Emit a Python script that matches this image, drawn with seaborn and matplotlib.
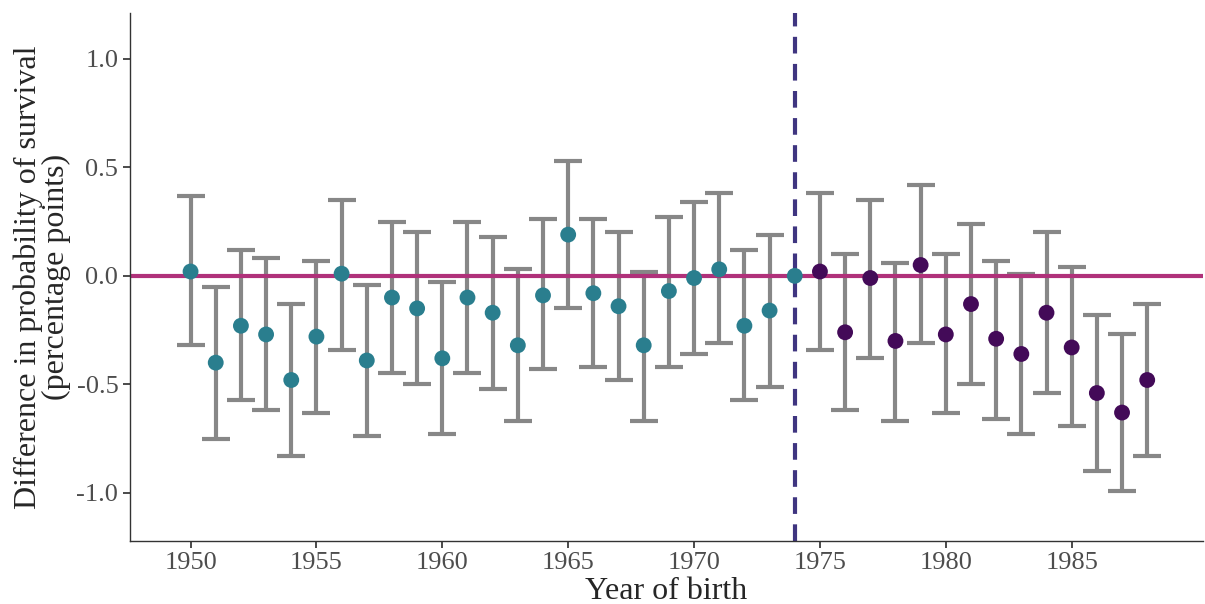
import numpy as np
import pandas as pd
import matplotlib
matplotlib.use("Agg")
import matplotlib.pyplot as plt
import seaborn as sns

years = list(range(1950, 1989))
estimate = [0.02, -0.40, -0.23, -0.27, -0.48, -0.28, 0.01, -0.39, -0.10, -0.15,
            -0.38, -0.10, -0.17, -0.32, -0.09, 0.19, -0.08, -0.14, -0.32, -0.07,
            -0.01, 0.03, -0.23, -0.16, 0.00, 0.02, -0.26, -0.01, -0.30, 0.05,
            -0.27, -0.13, -0.29, -0.36, -0.17, -0.33, -0.54, -0.63, -0.48]
ci_high = [0.37, -0.05, 0.12, 0.08, -0.13, 0.07, 0.35, -0.04, 0.25, 0.20,
           -0.03, 0.25, 0.18, 0.03, 0.26, 0.53, 0.26, 0.20, 0.02, 0.27,
           0.34, 0.38, 0.12, 0.19, 0.00, 0.38, 0.10, 0.35, 0.06, 0.42,
           0.10, 0.24, 0.07, 0.01, 0.20, 0.04, -0.18, -0.27, -0.13]
ci_low = [-0.32, -0.75, -0.57, -0.62, -0.83, -0.63, -0.34, -0.74, -0.45, -0.50,
          -0.73, -0.45, -0.52, -0.67, -0.43, -0.15, -0.42, -0.48, -0.67, -0.42,
          -0.36, -0.31, -0.57, -0.51, 0.00, -0.34, -0.62, -0.38, -0.67, -0.31,
          -0.63, -0.50, -0.66, -0.73, -0.54, -0.69, -0.90, -0.99, -0.83]
cutoff = 1974

df = pd.DataFrame({"year": years, "est": estimate, "lo": ci_low, "hi": ci_high})
df["group"] = np.where(df["year"] <= cutoff, "before", "after")

sns.set_theme(style="white")
plt.rcParams["font.family"] = ["Liberation Serif", "DejaVu Serif"]

fig, ax = plt.subplots(figsize=(12.05, 6.04), dpi=100)
bars = df[df["hi"] != df["lo"]]
ax.errorbar(bars["year"], bars["est"],
            yerr=[bars["est"] - bars["lo"], bars["hi"] - bars["est"]],
            fmt="none", ecolor="#878787", elinewidth=3, capsize=10, capthick=3, zorder=1)
ax.axhline(0, color="#B0317A", lw=3, zorder=2)
ax.axvline(cutoff, color="#3F3580", lw=3, ls=(0, (4, 2.5)), zorder=2)
sns.scatterplot(data=df, x="year", y="est", hue="group",
                palette={"before": "#2A7E8E", "after": "#430A58"},
                s=130, edgecolor="none", legend=False, ax=ax, zorder=3)

ax.set_xlim(1947.6, 1990.2)
ax.set_ylim(-1.22, 1.21)
ax.set_xticks(range(1950, 1990, 5))
ax.set_yticks([-1.0, -0.5, 0.0, 0.5, 1.0])
ax.set_yticklabels(["-1.0", "-0.5", "0.0", "0.5", "1.0"])
ax.tick_params(axis="both", labelsize=19, labelcolor="#4d4d4d", length=5,
               color="#333333", bottom=True, left=True)
ax.set_xlabel("Year of birth", fontsize=23, labelpad=2)
ax.set_ylabel("Difference in probability of survival\n(percentage points)",
              fontsize=23, linespacing=0.95)
sns.despine(ax=ax)
for s in ["left", "bottom"]:
    ax.spines[s].set_color("#333333")
    ax.spines[s].set_linewidth(1)

plt.subplots_adjust(left=0.108, right=0.998, top=0.978, bottom=0.105)
fig.savefig("out.png")
